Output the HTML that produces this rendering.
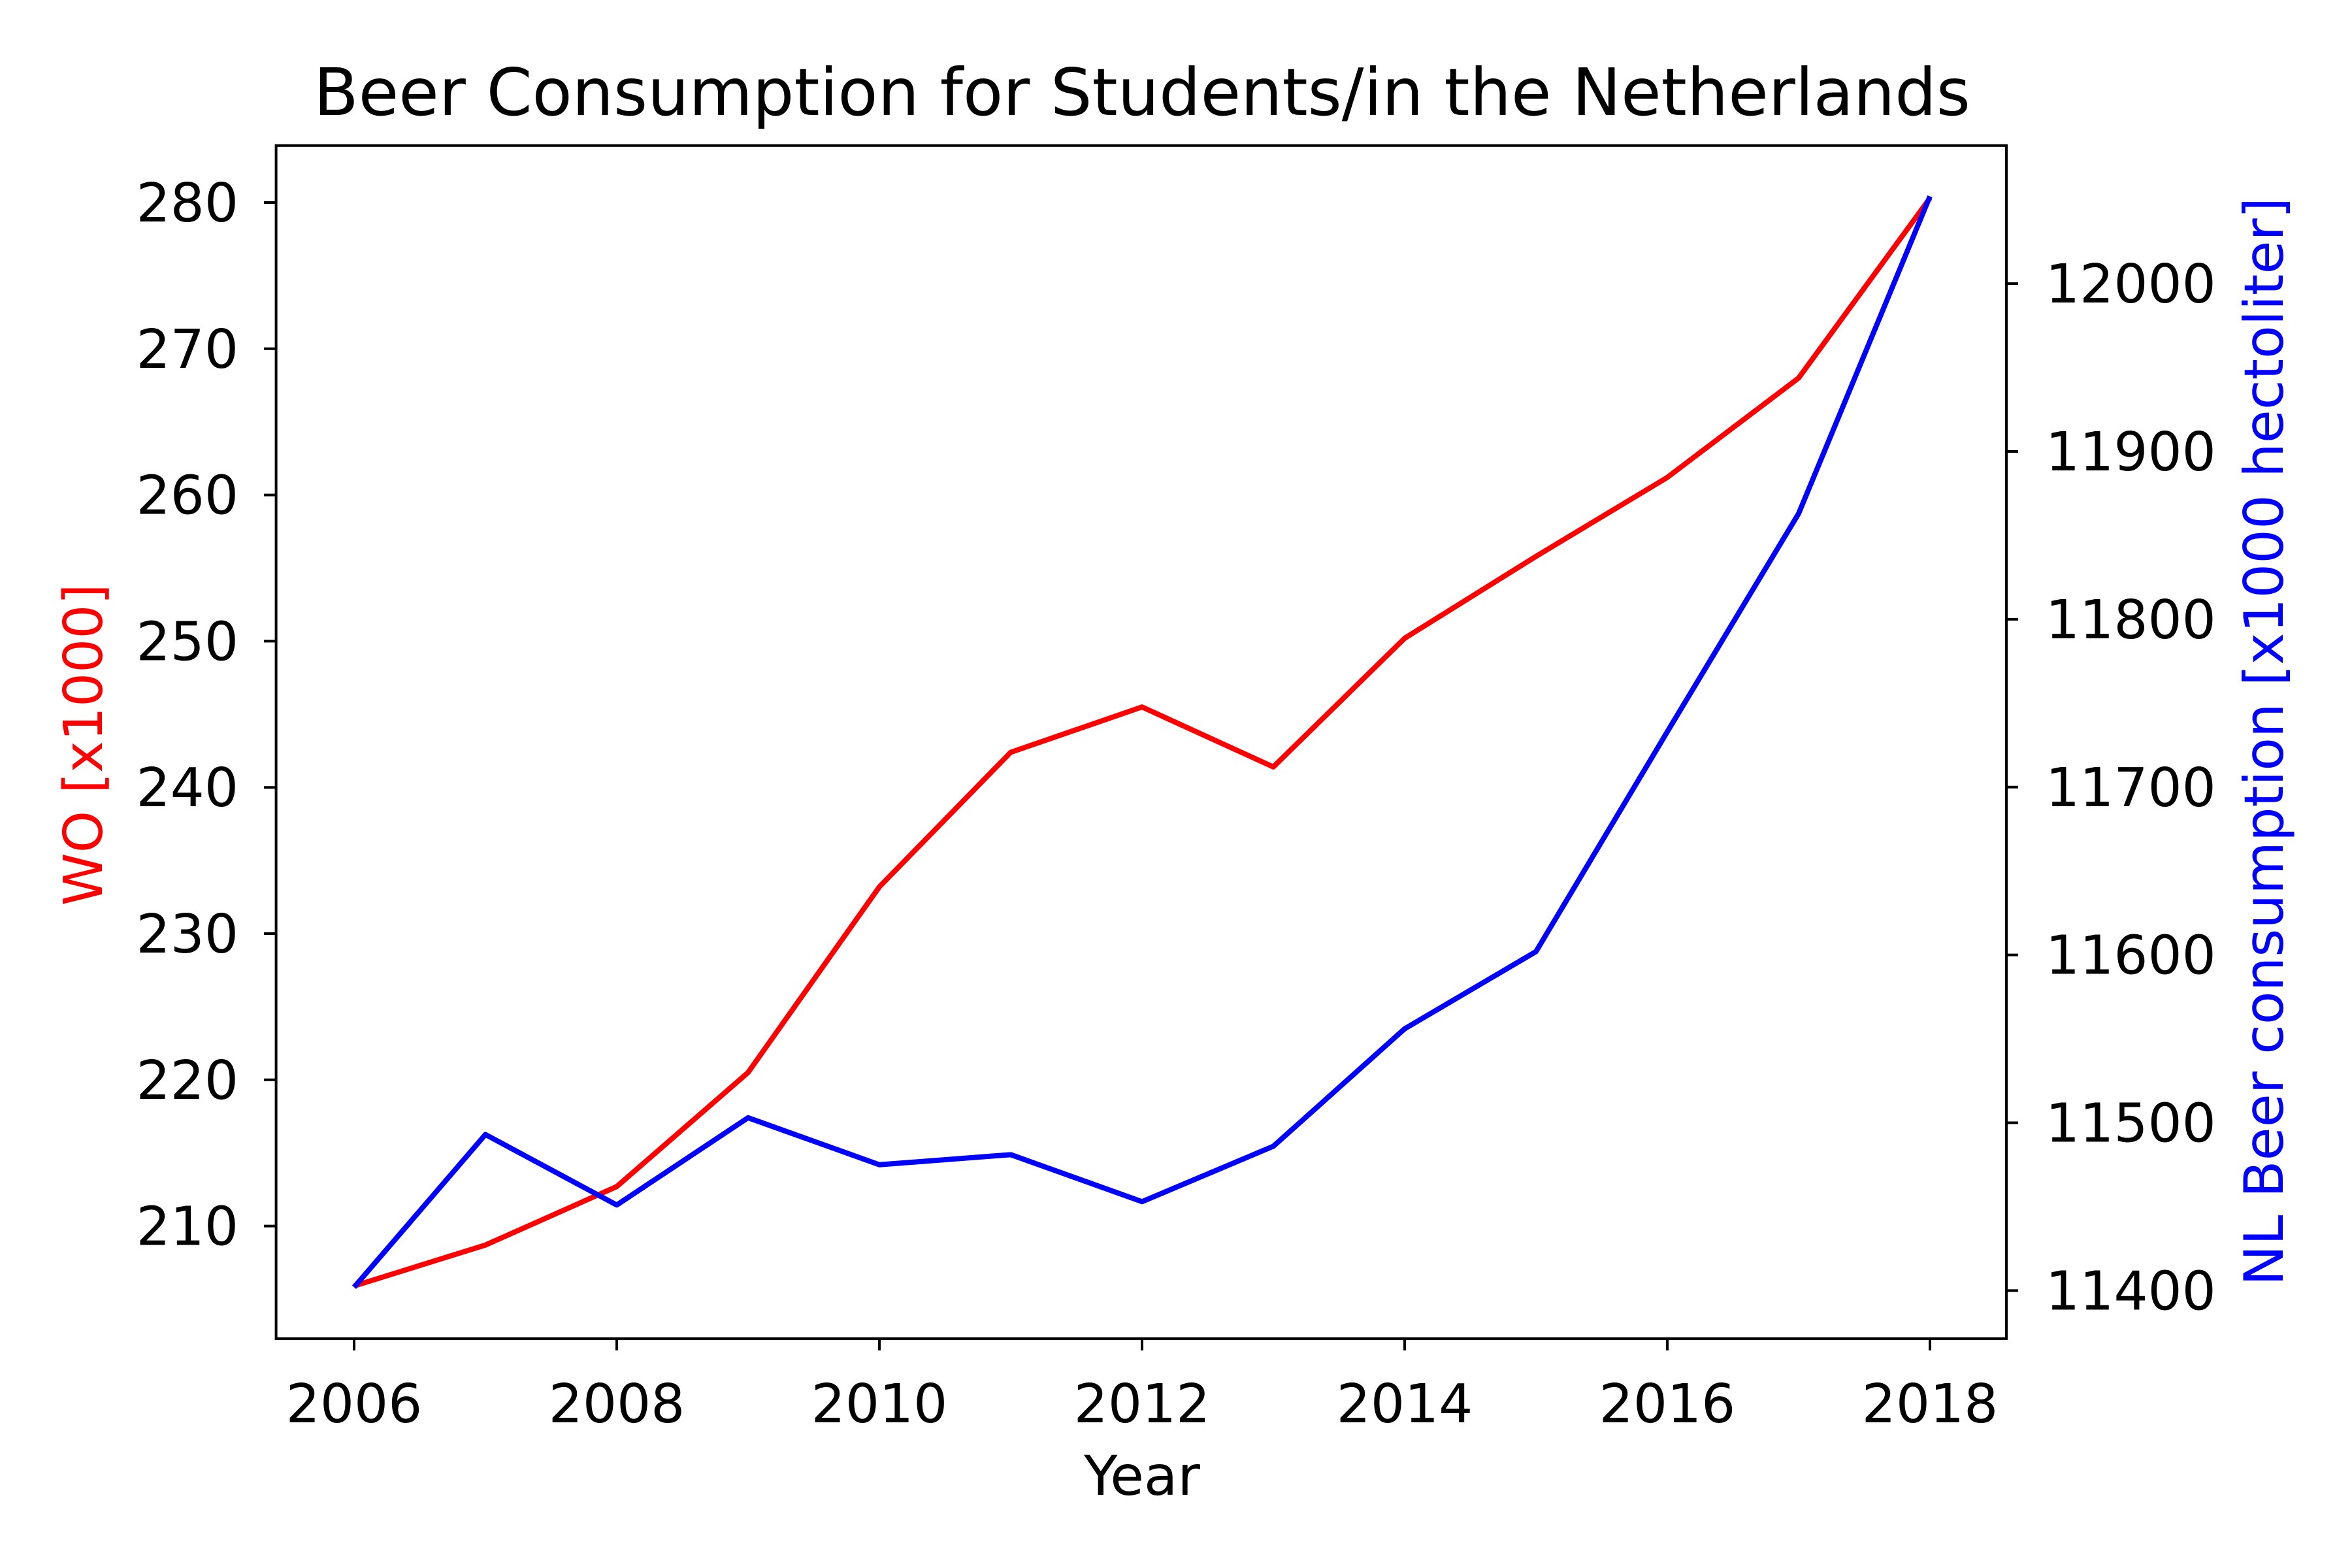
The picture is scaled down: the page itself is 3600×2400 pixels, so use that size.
<!DOCTYPE html>
<html><head><meta charset="utf-8"><style>
body{margin:0;background:#fff}
svg{display:block}
text{font-family:"DejaVu Sans","Liberation Sans",sans-serif}
</style></head><body>
<svg id="chart" width="3600" height="2400" viewBox="0 0 3600 2400">
<rect width="3600" height="2400" fill="#fff"/>
<text x="1748" y="176" font-size="100" text-anchor="middle">Beer Consumption for Students/in the Netherlands</text>
<g id="plot"></g>
<rect x="422.6" y="222.8" width="2648.4" height="1826.2" fill="none" stroke="#000" stroke-width="4"/>
<text x="1748" y="2288" font-size="84" text-anchor="middle">Year</text>
<text transform="translate(156,1140) rotate(-90)" font-size="82" fill="#ff0000" text-anchor="middle">WO [x1000]</text>
<text transform="translate(3494,1135) rotate(-90)" font-size="83" fill="#0000ff" text-anchor="middle">NL Beer consumption [x1000 hectoliter]</text>
</svg>
<script>
const years=[2006,2007,2008,2009,2010,2011,2012,2013,2014,2015,2016,2017,2018];
const woValues=[205.9,208.7,212.7,220.5,233.2,242.4,245.5,241.4,250.2,255.8,261.2,268.0,280.3];
const nlValues=[11402,11493,11451,11503,11475,11481,11453,11486,11556,11602,11733,11863,12052];
const xTicks=[2006,2008,2010,2012,2014,2016,2018];
const leftTicks=[210,220,230,240,250,260,270,280];
const rightTicks=[11400,11500,11600,11700,11800,11900,12000];
const NS="http://www.w3.org/2000/svg";
const g=document.getElementById('plot');
const X=v=>542+(v-2006)*(2954-542)/12;
const YL=v=>1876.6-(v-210)*(1876.6-310)/70;
const YR=v=>1975.4-(v-11400)*(1975.4-434.1)/600;
function el(t,a){const e=document.createElementNS(NS,t);for(const k in a)e.setAttribute(k,a[k]);g.appendChild(e);return e;}
xTicks.forEach(t=>{
 const l=el('line',{x1:X(t),x2:X(t),y1:2049,y2:2067,stroke:'#000','stroke-width':4});
 
 
 const s=el('text',{x:X(t),y:2177,'font-size':82,'text-anchor':'middle'});s.textContent=t;
 
 
});
leftTicks.forEach(t=>{
 const l=el('line',{x1:404,x2:422.6,y1:YL(t),y2:YL(t),stroke:'#000','stroke-width':4});
 
 
 const s=el('text',{x:365,y:YL(t)+29,'font-size':82,'text-anchor':'end'});s.textContent=t;
 
 
});
rightTicks.forEach(t=>{
 const l=el('line',{x1:3071,x2:3089,y1:YR(t),y2:YR(t),stroke:'#000','stroke-width':4});
 
 
 const s=el('text',{x:3131,y:YR(t)+29,'font-size':82,'text-anchor':'start'});s.textContent=t;
 
 
});
const red=el('polyline',{points:years.map((y,i)=>X(y)+','+YL(woValues[i])).join(' '),fill:'none',stroke:'#ff0000','stroke-width':8,'stroke-linejoin':'round'});


const blue=el('polyline',{points:years.map((y,i)=>X(y)+','+YR(nlValues[i])).join(' '),fill:'none',stroke:'#0000ff','stroke-width':8,'stroke-linejoin':'round'});


</script>
</body></html>
